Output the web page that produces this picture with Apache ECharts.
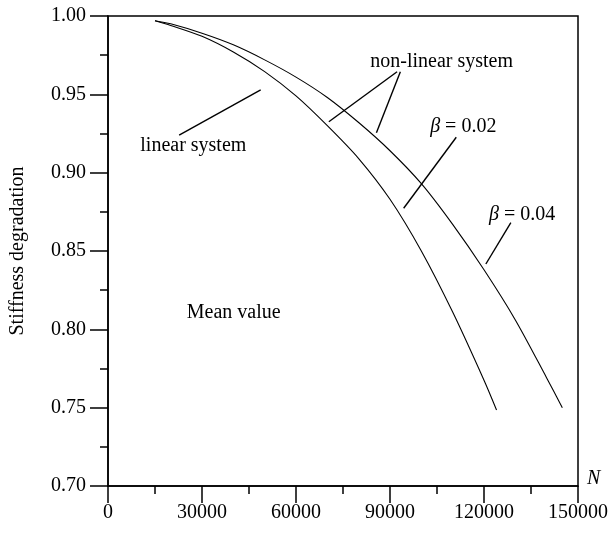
<!DOCTYPE html>
<html><head><meta charset="utf-8">
<script src="https://cdn.jsdelivr.net/npm/echarts@6/dist/echarts.min.js"></script>
<style>html,body{margin:0;padding:0;background:#fff}#c{width:614px;height:537px}</style>
</head><body><div id="c"></div>
<script>
// ---- data ----
const cyclesBeta002 = [15000, 20000, 30000, 40000, 50000, 60000, 70000, 80000, 90000, 100000, 110000, 120000, 124000];
const stiffBeta002  = [0.997, 0.994, 0.987, 0.977, 0.9645, 0.949, 0.930, 0.909, 0.883, 0.850, 0.811, 0.7675, 0.7485];
const cyclesBeta004 = [15000, 20000, 30000, 40000, 50000, 60000, 70000, 80000, 90000, 100000, 110000, 120000, 130000, 140000, 145000];
const stiffBeta004  = [0.997, 0.995, 0.989, 0.9816, 0.972, 0.961, 0.948, 0.932, 0.914, 0.893, 0.867, 0.838, 0.806, 0.769, 0.750];
const xTickValues = [0, 30000, 60000, 90000, 120000, 150000];
const yTickValues = [0.70, 0.75, 0.80, 0.85, 0.90, 0.95, 1.00];
// annotation texts (data coordinates)
const noteTexts = ['linear system', 'non-linear system', '{i|β} = 0.02', '{i|β} = 0.04', 'Mean value'];
const noteN     = [27230, 106470, 113380, 132170, 40130];
const noteS     = [0.9170, 0.9708, 0.9290, 0.8730, 0.8104];
// leader lines (data coordinates)
const leaderStart = [[22710, 0.9240], [92260, 0.9644], [93310, 0.9644], [111150, 0.9226], [128570, 0.8681]];
const leaderEnd   = [[48730, 0.9528], [70480, 0.9325], [85670, 0.9255], [94360, 0.8773], [120600, 0.8417]];

const FONT = "'Liberation Serif','Times New Roman',serif";
const chart = echarts.init(document.getElementById('c'), null, {renderer: 'canvas'});

const pair = (xs, ys) => xs.map((x, i) => [x, ys[i]]);

const option = {
  animation: false,
  backgroundColor: '#fff',
  grid: {left: 107, right: 36, top: 16, bottom: 51, show: true, borderColor: '#000', borderWidth: 1.5, backgroundColor: 'transparent'},
  xAxis: {
    type: 'value', min: xTickValues[0], max: xTickValues[xTickValues.length - 1], interval: 30000,
    name: 'N', nameLocation: 'end', nameGap: 9,
    nameTextStyle: {fontFamily: FONT, fontSize: 20, fontStyle: 'italic', color: '#000', verticalAlign: 'bottom', lineHeight: 14},
    axisLine: {lineStyle: {color: '#000', width: 1.5}},
    axisTick: {show: true, inside: false, length: 17, lineStyle: {color: '#000', width: 1.5}},
    minorTick: {show: true, splitNumber: 2, length: 8, lineStyle: {color: '#000', width: 1.5}},
    splitLine: {show: false},
    axisLabel: {fontFamily: FONT, fontSize: 20, color: '#000', margin: 17, formatter: v => String(v)}
  },
  yAxis: {
    type: 'value', min: yTickValues[0], max: yTickValues[yTickValues.length - 1], interval: 0.05,
    name: 'Stiffness degradation', nameLocation: 'middle', nameGap: 80, nameRotate: 90,
    nameTextStyle: {fontFamily: FONT, fontSize: 20, color: '#000'},
    axisLine: {lineStyle: {color: '#000', width: 1.5}},
    axisTick: {show: true, inside: false, length: 18, lineStyle: {color: '#000', width: 1.5}},
    minorTick: {show: true, splitNumber: 2, length: 8, lineStyle: {color: '#000', width: 1.5}},
    splitLine: {show: false},
    axisLabel: {fontFamily: FONT, fontSize: 20, color: '#000', margin: 22, formatter: v => v.toFixed(2)}
  },
  series: [
    {type: 'line', name: 'beta=0.02', data: pair(cyclesBeta002, stiffBeta002), smooth: 0.3, showSymbol: false,
     lineStyle: {color: '#000', width: 1.1}},
    {type: 'line', name: 'beta=0.04', data: pair(cyclesBeta004, stiffBeta004), smooth: 0.3, showSymbol: false,
     lineStyle: {color: '#000', width: 1.1},
     markLine: {silent: true, symbol: ['none', 'none'], animation: false, label: {show: false},
       lineStyle: {color: '#000', width: 1.4, type: 'solid'},
       data: leaderStart.map((s, i) => [{coord: s}, {coord: leaderEnd[i]}])}}
  ]
};
chart.setOption(option);

const graphics = noteTexts.map((t, i) => {
  const p = chart.convertToPixel({gridIndex: 0}, [noteN[i], noteS[i]]);
  return {type: 'text', x: p[0], y: p[1], z: 100,
    style: {text: t, fontFamily: FONT, fontSize: 20, fill: '#000', align: 'center', verticalAlign: 'middle',
      rich: {i: {fontFamily: FONT, fontSize: 20, fontStyle: 'italic', fill: '#000'}}}};
});
chart.setOption({graphic: graphics});
</script></body></html>
